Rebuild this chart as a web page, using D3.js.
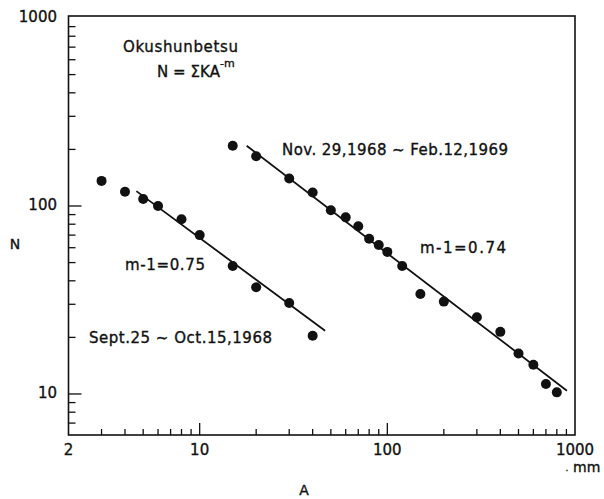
<!DOCTYPE html>
<html>
<head>
<meta charset="utf-8">
<script src="https://cdn.jsdelivr.net/npm/d3@7/dist/d3.min.js"></script>
<style>
  html, body { margin: 0; padding: 0; background: #fff; }
  svg { display: block; }
  text { font-family: "DejaVu Sans", sans-serif; fill: #111; stroke: #111; stroke-width: 0.35; }
</style>
</head>
<body>
<svg id="chart" width="604" height="499"></svg>
<script>
// ---- data ----
const septA = [3, 4, 5, 6, 8, 10, 15, 20, 30, 40];
const septN = [136, 119, 109, 100, 85, 70, 48, 37, 30.5, 20.4];
const novA = [15, 20, 30, 40, 50, 60, 70, 80, 90, 100, 120, 150, 200, 300, 400, 500, 600, 700, 800];
const novN = [209, 184, 140, 118, 95, 87, 78, 67, 62, 57, 48, 34, 31, 25.6, 21.4, 16.4, 14.3, 11.3, 10.2];
// fitted power-law lines: endpoints
const septFitA = [4.6, 46.6];
const septFitN = [120, 21.7];
const novFitA = [17.8, 906];
const novFitN = [209, 10.4];
// axis ticks
const xMajor = [2, 10, 100, 1000];
const xMajorLabels = ["2", "10", "100", "1000"];
const xMinor = [3, 4, 5, 6, 7, 8, 9, 20, 30, 40, 50, 60, 70, 80, 90, 200, 300, 400, 500, 600, 700, 800, 900];
const yMajor = [10, 100, 1000];
const yMajorLabels = ["10", "100", "1000"];
const yMinor = [7, 8, 9, 20, 30, 40, 50, 60, 70, 80, 90, 200, 300, 400, 500, 600, 700, 800, 900];

const svg = d3.select("#chart");
const x = d3.scaleLog().domain([2, 1000]).range([68.5, 575]);
const y = d3.scaleLog().domain([6.05, 1025]).range([435, 16]);

const ink = "#111";
const [x0, x1] = x.range();
const [y0, y1] = y.range();

// frame
svg.append("rect")
  .attr("x", x0).attr("y", y1)
  .attr("width", x1 - x0).attr("height", y0 - y1)
  .attr("fill", "none").attr("stroke", ink).attr("stroke-width", 1.6);

// ticks (inward)
const g = svg.append("g").attr("stroke", ink).attr("stroke-width", 1.3);
xMinor.forEach(v => g.append("line").attr("x1", x(v)).attr("x2", x(v)).attr("y1", y0).attr("y2", y0 - 6));
xMajor.slice(1, 3).forEach(v => g.append("line").attr("x1", x(v)).attr("x2", x(v)).attr("y1", y0).attr("y2", y0 - 12));
yMinor.forEach(v => g.append("line").attr("x1", x0).attr("x2", x0 + 7).attr("y1", y(v)).attr("y2", y(v)));
yMajor.slice(0, 2).forEach(v => g.append("line").attr("x1", x0).attr("x2", x0 + 13).attr("y1", y(v)).attr("y2", y(v)));

// tick labels
svg.selectAll(".xl").data(xMajor).enter().append("text")
  .attr("x", d => x(d)).attr("y", 455)
  .attr("text-anchor", "middle").attr("font-size", 15)
  .text((d, i) => xMajorLabels[i]);
svg.selectAll(".yl").data(yMajor).enter().append("text")
  .attr("x", 57).attr("y", d => y(d) + 4)
  .attr("text-anchor", "end").attr("font-size", 15)
  .text((d, i) => yMajorLabels[i]);

// axis titles
svg.append("text").attr("x", 15).attr("y", 249).attr("text-anchor", "middle").attr("font-size", 14).text("N");
svg.append("text").attr("x", 304).attr("y", 495).attr("text-anchor", "middle").attr("font-size", 14).text("A");
svg.append("text").attr("x", 573).attr("y", 472).attr("font-size", 14).text("mm");
svg.append("text").attr("x", 567).attr("y", 471).attr("text-anchor", "middle").attr("font-size", 9).text(".");

// fit lines
const line = d3.line().x(d => x(d[0])).y(d => y(d[1]));
[[septFitA, septFitN], [novFitA, novFitN]].forEach(([a, n]) => {
  svg.append("path").datum(a.map((v, i) => [v, n[i]]))
    .attr("d", line).attr("fill", "none").attr("stroke", ink).attr("stroke-width", 1.8);
});

// points
[[septA, septN], [novA, novN]].forEach(([a, n]) => {
  svg.append("g").selectAll("circle").data(a.map((v, i) => [v, n[i]])).enter()
    .append("circle").attr("cx", d => x(d[0])).attr("cy", d => y(d[1])).attr("r", 5).attr("fill", ink);
});

// annotations
function label(txt, xl, xr, yb, size) {
  svg.append("text").attr("x", xl).attr("y", yb).attr("font-size", size)
    .attr("textLength", xr - xl).attr("lengthAdjust", "spacing").text(txt);
}
label("Okushunbetsu", 123, 238, 51.5, 15);
label("N = ΣKA", 157, 220, 77, 15);
svg.append("text").attr("x", 220).attr("y", 67).attr("font-size", 11).text("-m");
label("Nov. 29,1968 ~ Feb.12,1969", 282, 508, 155, 15);
label("m-1=0.74", 420, 506, 253, 15);
label("m-1=0.75", 125, 205, 270, 15);
label("Sept.25 ~ Oct.15,1968", 89, 272, 343, 15);
</script>
</body>
</html>
